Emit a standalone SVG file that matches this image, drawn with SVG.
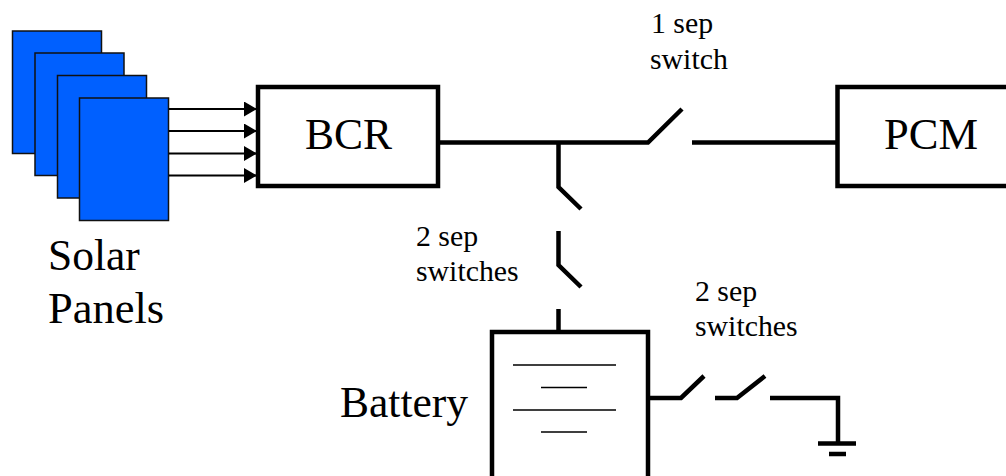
<svg xmlns="http://www.w3.org/2000/svg" width="1006" height="476" viewBox="0 0 1006 476">
<style>
.panel{fill:#0060ff;stroke:#111;stroke-width:1.5}
.box{fill:#fff;stroke:#000;stroke-width:4.500}
.wire{fill:none;stroke:#000;stroke-width:4.500}
.thin{fill:none;stroke:#000;stroke-width:1.500}
.arrow{fill:none;stroke:#000;stroke-width:2;marker-end:url(#head)}
text{font-family:"Liberation Serif","Times New Roman",serif;fill:#000}
.big{font-size:43.500px}
.big2{font-size:44.500px}
.small{font-size:29.800px}
</style>
<defs>
<marker id="head" markerUnits="userSpaceOnUse" markerWidth="14" markerHeight="16" refX="13" refY="7.500" orient="auto"><path d="M0 0L13 7.500L0 15Z" fill="#000"/></marker>
</defs>
<g id="solar-panels">
<rect class="panel" x="12.500" y="31" width="89" height="122.500"/>
<rect class="panel" x="35" y="53" width="89" height="122.500"/>
<rect class="panel" x="57.500" y="75.500" width="89" height="122.500"/>
<rect class="panel" x="79.500" y="98" width="89" height="122.500"/>
<text class="big" x="48" y="270">Solar</text>
<text class="big2" x="48" y="323">Panels</text>
</g>
<g id="bcr">
<rect class="box" x="258" y="87" width="180" height="99"/>
<text class="big" x="305" y="149">BCR</text>
</g>
<g id="pcm">
<rect class="box" x="837.500" y="87" width="172" height="99"/>
<text class="big2" x="884" y="149">PCM</text>
</g>
<g id="battery">
<rect class="box" x="492" y="332" width="156" height="150"/>
<path class="thin" d="M513 365H616M541 387.500H587M513 410H616M541 432H587"/>
<text class="big" x="340" y="417">Battery</text>
</g>
<g id="ground">
<path class="wire" d="M818 443.500H856M829 454H846"/>
</g>
<g id="connectors">
<path class="arrow" d="M169 109H257"/>
<path class="arrow" d="M169 131H257"/>
<path class="arrow" d="M169 153.500H257"/>
<path class="arrow" d="M169 175.500H257"/>
<path class="wire" d="M438 142.500H648L682 109"/>
<path class="wire" d="M692 142.500H837"/>
<path class="wire" d="M558.500 142.500V187L581 209"/>
<path class="wire" d="M558.500 231V265L581 287"/>
<path class="wire" d="M558.500 309V331"/>
<path class="wire" d="M649 398H681L704 376"/>
<path class="wire" d="M715 398H737L765 376"/>
<path class="wire" d="M770 398H838V443"/>
</g>
<g id="labels">
<text class="small" x="651" y="33">1 sep</text>
<text class="small" x="650" y="69">switch</text>
<text class="small" x="416" y="246">2 sep</text>
<text class="small" x="416" y="281">switches</text>
<text class="small" x="695" y="301">2 sep</text>
<text class="small" x="695" y="336">switches</text>
</g>
</svg>
